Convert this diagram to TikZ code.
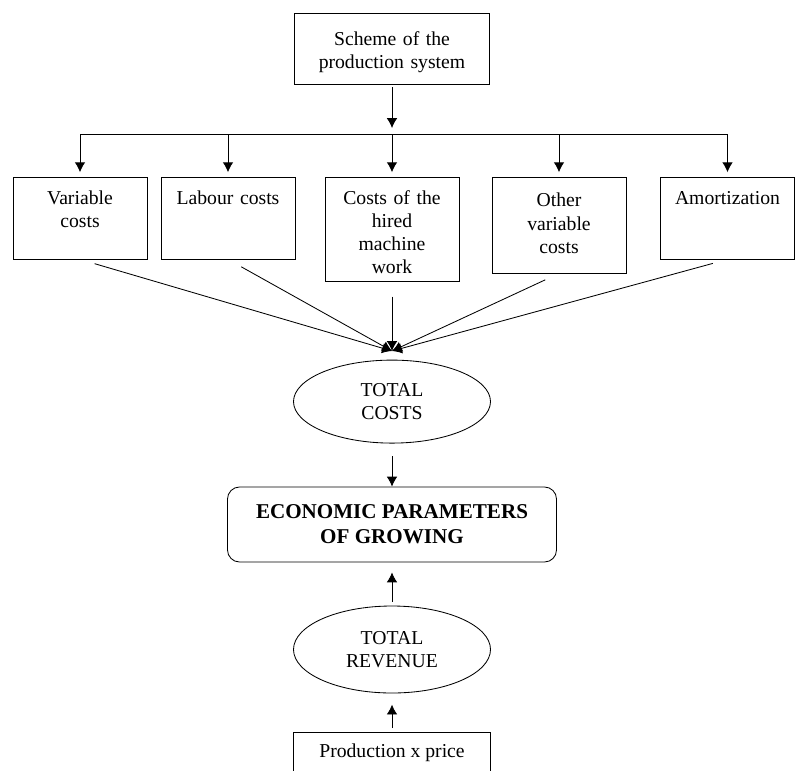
\documentclass[tikz,border=0pt]{standalone}
\usepackage{fontspec}
\setmainfont{Liberation Serif}
\usetikzlibrary{arrows.meta, shapes.geometric}

\begin{document}
\begin{tikzpicture}[
    >={Latex[length=7pt,width=7.5pt]},
    line width=0.6pt,
    font=\fontsize{14}{16.4}\selectfont,
    box/.style={draw, rectangle, align=center, inner sep=4pt},
    costbox/.style={draw, rectangle, anchor=north, align=center, text width=3.07cm,
        inner xsep=4pt, inner ysep=4pt, text height=15pt, text depth=35pt},
    oval/.style={draw, ellipse, align=center, inner sep=0pt, minimum width=4.925cm}
]
\useasboundingbox (0,0) rectangle (19.975,-19.25);

% ==========================================
% 1. Production system and cost items
% ==========================================
\node[box, anchor=north, text width=4.59cm, text height=18.7pt, text depth=23.6pt] (scheme) at (9.8,-0.325) {Scheme of the\\production system};
\coordinate (split) at (9.8,-3.35); % horizontal bus

\node[costbox] (varCost) at (2.0,-4.425) {Variable\\costs};
\node[costbox] (labCost) at (5.7,-4.425) {Labour costs};
\node[costbox, text depth=50.7pt] (hireCost) at (9.8,-4.425) {Costs of the\\hired\\machine\\work};
\node[costbox, text height=17pt, text depth=43pt] (othCost) at (13.975,-4.425) {Other\\variable\\costs};
\node[costbox] (amort) at (18.1875,-4.425) {Amortization};

% ==========================================
% 2. Totals and result
% ==========================================
\coordinate (hub) at (9.8,-8.775); % all cost lines meet here

\node[oval, minimum height=2.075cm] (totCost) at (9.8,-10.04) {TOTAL\\COSTS};
\node[box, rounded corners=0.3cm, minimum width=8.225cm, minimum height=1.875cm,
    font=\fontsize{15}{17.7}\selectfont\bfseries] (econ) at (9.8,-13.1125) {ECONOMIC PARAMETERS\\OF GROWING};
\node[oval, minimum height=2.175cm] (totRev) at (9.8,-16.2375) {TOTAL\\REVENUE};
\node[box, anchor=north, minimum width=4.925cm, text height=13.7pt, text depth=30pt] (prodPrice) at (9.8,-18.3) {Production x price};

% ==========================================
% 3. Connectors
% ==========================================
\draw[->, shorten <=0.07cm, shorten >=0.15cm] (scheme) -- (split);
\draw (varCost.north |- split) -- (amort.north |- split);
\foreach \b in {varCost, labCost, hireCost, othCost, amort}
    \draw[->, shorten >=0.12cm] (\b.north |- split) -- (\b.north);

\foreach \b in {varCost, labCost, hireCost, othCost, amort}
    \draw[->, shorten <=0.38cm] (\b.south) -- (hub);

\draw[->, shorten <=0.32cm] (totCost) -- (econ);
\draw[->, shorten <=0.1cm, shorten >=0.25cm] (totRev) -- (econ);   % revenue up
\draw[->, shorten <=0.1cm, shorten >=0.28cm] (prodPrice) -- (totRev); % price up

\end{tikzpicture}
\end{document}
